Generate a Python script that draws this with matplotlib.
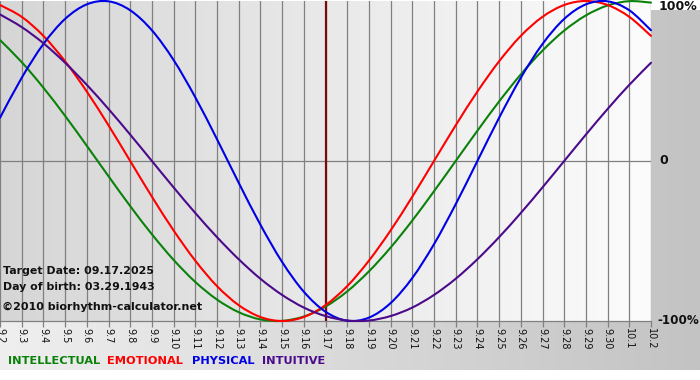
import numpy as np
import matplotlib
matplotlib.use("Agg")
import matplotlib.pyplot as plt
from matplotlib.colors import LinearSegmentedColormap
from matplotlib.path import Path
from matplotlib.patches import PathPatch

# ---- data ----
dates = ["9.2", "9.3", "9.4", "9.5", "9.6", "9.7", "9.8", "9.9", "9.10", "9.11",
         "9.12", "9.13", "9.14", "9.15", "9.16", "9.17", "9.18", "9.19", "9.20", "9.21",
         "9.22", "9.23", "9.24", "9.25", "9.26", "9.27", "9.28", "9.29", "9.30", "10.1", "10.2"]
physical = [0.270, 0.520, 0.731, 0.888, 0.979, 0.998, 0.942, 0.817, 0.631, 0.398,
            0.136, -0.136, -0.398, -0.631, -0.817, -0.942, -0.998, -0.979, -0.888, -0.731,
            -0.520, -0.270, 0.000, 0.270, 0.520, 0.731, 0.888, 0.979, 0.998, 0.942, 0.817]
emotional = [0.975, 0.901, 0.782, 0.623, 0.434, 0.223, 0.000, -0.223, -0.434, -0.623,
             -0.782, -0.901, -0.975, -1.000, -0.975, -0.901, -0.782, -0.623, -0.434, -0.223,
             0.000, 0.223, 0.434, 0.623, 0.782, 0.901, 0.975, 1.000, 0.975, 0.901, 0.782]
intellectual = [0.756, 0.618, 0.458, 0.282, 0.095, -0.095, -0.282, -0.458, -0.618, -0.756,
                -0.866, -0.945, -0.990, -0.999, -0.972, -0.910, -0.815, -0.690, -0.541, -0.372,
                -0.189, 0.000, 0.189, 0.372, 0.541, 0.690, 0.815, 0.910, 0.972, 0.999, 0.990]
intuitive = [0.916, 0.837, 0.736, 0.614, 0.476, 0.325, 0.165, 0.000, -0.165, -0.325,
             -0.476, -0.614, -0.736, -0.837, -0.916, -0.969, -0.997, -0.997, -0.969, -0.916,
             -0.837, -0.736, -0.614, -0.476, -0.325, -0.165, 0.000, 0.165, 0.325, 0.476, 0.614]
target_label = "9.17"
y_labels = ["100%", "0", "-100%"]
y_values = [1, 0, -1]
legend_names = ["INTELLECTUAL", "EMOTIONAL", "PHYSICAL", "INTUITIVE"]

C_INT = "#0a820a"
C_EMO = "#ff0000"
C_PHY = "#0000e6"
C_ITU = "#4b0a8c"

W, H = 700, 380
fig = plt.figure(figsize=(W / 100, H / 100), dpi=100)
fig.patch.set_facecolor("white")

# outer gradient panel
bg = fig.add_axes([0, 10 / H, 1, 360 / H])
bg.set_axis_off()
cm_out = LinearSegmentedColormap.from_list("o", ["#efefef", "#c3c3c3"])
bg.imshow(np.linspace(0, 1, 256)[None, :], aspect="auto", cmap=cm_out,
          extent=[0, 1, 0, 1])
bg.set_xlim(0, 1)
bg.set_ylim(0, 1)

# main plot area: x 0..651 px, y 1..321 px (from top)
left, right = 0, 651
top, bottom = 1, 321
ax = fig.add_axes([left / W, (H - bottom) / H, (right - left) / W, (bottom - top) / H])
x = np.arange(len(dates))
ax.set_xlim(0, len(dates) - 1)
ax.set_ylim(-1, 1)
cm_in = LinearSegmentedColormap.from_list("i", ["#d6d6d6", "#fcfcfc"])
ax.imshow(np.linspace(0, 1, 256)[None, :], aspect="auto", cmap=cm_in,
          extent=[0, len(dates) - 1, -1, 1], zorder=0)
for s in ax.spines.values():
    s.set_visible(False)

for xi in x:
    ax.axvline(xi, color="#808080", lw=0.9, zorder=1)
ax.axhline(0, color="#808080", lw=0.9, zorder=1)
ax.axhline(-1, color="#808080", lw=0.9, zorder=1, clip_on=False)

ti = dates.index(target_label)
ax.axvline(ti, color="#7a0a0a", lw=1.6, zorder=2)


def smooth_path(xs, ys):
    """Bezier path (Catmull-Rom style) passing through every data point."""
    pts = np.column_stack([xs, ys]).astype(float)
    n = len(pts)
    verts = [pts[0]]
    codes = [Path.MOVETO]
    for i in range(n - 1):
        p0 = pts[i - 1] if i > 0 else pts[i]
        p1 = pts[i]
        p2 = pts[i + 1]
        p3 = pts[i + 2] if i + 2 < n else pts[i + 1]
        c1 = p1 + (p2 - p0) / 6.0
        c2 = p2 - (p3 - p1) / 6.0
        verts += [c1, c2, p2]
        codes += [Path.CURVE4] * 3
    return Path(verts, codes)


for vals, c in [(intellectual, C_INT), (emotional, C_EMO), (physical, C_PHY), (intuitive, C_ITU)]:
    patch = PathPatch(smooth_path(x, vals), facecolor="none", edgecolor=c, lw=1.5,
                      zorder=3, clip_on=False, capstyle="round", joinstyle="round")
    ax.add_patch(patch)

ax.set_xticks(x)
ax.set_xticklabels(dates, rotation=-90, fontsize=7, color="#111111")
ax.tick_params(axis="x", length=4, width=0.9, color="#808080", pad=1)
ax.set_yticks([])

# right side labels
label_style = {"100%": (8, -6, 9), "0": (8, 0, 9), "-100%": (6, 0, 8.6)}
for lab, v in zip(y_labels, y_values):
    dx, dy, fs = label_style[lab]
    ax.annotate(lab, xy=(1.0, v), xycoords=ax.get_yaxis_transform(),
                xytext=(dx, dy), textcoords="offset pixels",
                ha="left", va="center", fontsize=fs, fontweight="bold", color="#111111",
                annotation_clip=False)

# info text
fig.text(3 / W, (H - 271) / H, "Target Date: 09.17.2025",
         fontsize=7.9, fontweight="bold", va="center", ha="left", color="#111111")
fig.text(3 / W, (H - 287) / H, "Day of birth: 03.29.1943",
         fontsize=7.9, fontweight="bold", va="center", ha="left", color="#111111")
fig.text(2 / W, (H - 307) / H, "\u00a92010 biorhythm-calculator.net",
         fontsize=8.0, fontweight="bold", va="center", ha="left", color="#111111")

# legend text
leg_x = [8, 107, 192, 262]
for name, c, lx in zip(legend_names, [C_INT, C_EMO, C_PHY, C_ITU], leg_x):
    fig.text(lx / W, (H - 361) / H, name, fontsize=8.2, fontweight="bold", color=c,
             va="center", ha="left")

fig.savefig("out.png", dpi=100)
